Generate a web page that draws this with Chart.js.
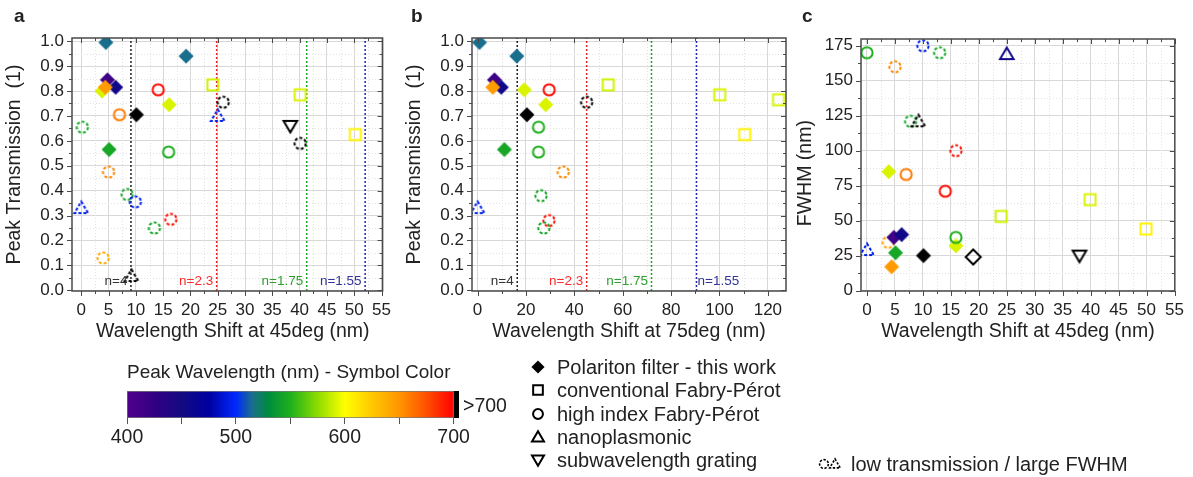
<!DOCTYPE html>
<html>
<head>
<meta charset="utf-8">
<script src="https://cdn.jsdelivr.net/npm/chart.js@4.4.0/dist/chart.umd.min.js"></script>
<style>
body { margin: 0; background: #fff; }
#wrap { position: relative; width: 1193px; height: 477px; overflow: hidden; font-family: 'Liberation Sans', Arial, sans-serif; color: #222; }
#wrap canvas, #wrap .t { position: absolute; }
.t { white-space: nowrap; }
.lab { font-weight: bold; font-size: 19px; line-height: 19px; }
</style>
</head>
<body>
<div id="wrap">
  <canvas id="pa" width="400" height="345" style="left:0;top:0"></canvas>
  <canvas id="pb" width="400" height="345" style="left:400px;top:0"></canvas>
  <canvas id="pc" width="403" height="345" style="left:790px;top:0"></canvas>
  <canvas id="cb" width="420" height="110" style="left:100px;top:350px"></canvas>
  <div class="t lab" style="left:14px;top:6px">a</div>
  <div class="t lab" style="left:411px;top:6px">b</div>
  <div class="t lab" style="left:802px;top:6px">c</div>
  <div class="t" style="left:127px;top:360px;font-size:19px;line-height:24px">Peak Wavelength (nm) - Symbol Color</div>
  <div class="t" style="left:463px;top:393px;font-size:19.5px;line-height:24px">&gt;700</div>
  <div id="legend"></div>
</div>
<script>
// panel a : shift at 45deg vs peak transmission
const aShift = [4.5, 19.2, 3.8, 4.8, 6.3, 4.4, 10.1, 16.1, 5.1, 14.1, 7.0, 16.0, 24.1, 40.1, 50.2, 26.0, 25.0, 38.3, 40.1, 0.2, 5.0, 8.4, 9.9, 0.0, 16.4, 13.4, 4.0, 9.2];
const aTrans = [0.995, 0.94, 0.80, 0.845, 0.815, 0.815, 0.705, 0.745, 0.565, 0.805, 0.705, 0.555, 0.825, 0.785, 0.625, 0.755, 0.70, 0.66, 0.59, 0.655, 0.475, 0.385, 0.355, 0.33, 0.285, 0.25, 0.13, 0.057];
const aPeak = [515, 515, 592, 415, 455, 648, 710, 592, 545, 697, 660, 550, 590, 592, 605, 710, 495, 710, 710, 545, 655, 545, 495, 495, 695, 545, 640, 710];
const aType = ['D','D','D','D','D','D','D','D','D','O','O','O','S','S','S','O','T','V','O','O','O','O','O','T','O','O','O','T'];
const aLow = [0,0,0,0,0,0,0,0,0,0,0,0,0,0,0,1,1,0,1,1,1,1,1,1,1,1,1,1];

// panel b : shift at 75deg vs peak transmission
const bShift = [0.8, 16.2, 19.3, 7.0, 9.8, 6.3, 20.4, 28.2, 11.1, 29.6, 25.2, 25.2, 54.0, 100.1, 110.4, 124.4, 45.1, 35.4, 26.2, 29.5, 27.4, 0.0];
const bTrans = [0.995, 0.94, 0.805, 0.845, 0.815, 0.815, 0.705, 0.745, 0.565, 0.805, 0.655, 0.555, 0.825, 0.785, 0.625, 0.765, 0.755, 0.475, 0.38, 0.28, 0.25, 0.33];
const bPeak = [515, 515, 592, 415, 455, 648, 710, 592, 545, 697, 550, 550, 590, 592, 605, 592, 710, 655, 545, 695, 545, 495];
const bType = ['D','D','D','D','D','D','D','D','D','O','O','O','S','S','S','S','O','O','O','O','O','T'];
const bLow = [0,0,0,0,0,0,0,0,0,0,0,0,0,0,0,0,1,1,1,1,1,1];

// panel c : shift at 45deg vs FWHM
const cShift = [0, 5, 10, 13, 25, 7.8, 9.2, 15.9, 3.9, 7, 14, 24, 39.9, 49.9, 3.8, 4.8, 6.2, 0, 5.1, 15.9, 15.9, 10.1, 19, 4.4, 38];
const cFwhm = [170, 160, 175, 170, 169, 121, 121, 100, 85, 83, 71, 53, 65, 44, 34.5, 38, 40, 29, 27, 32, 38, 25, 24, 17, 25];
const cPeak = [550, 655, 495, 545, 455, 545, 710, 695, 592, 660, 697, 590, 592, 605, 645, 415, 455, 495, 545, 592, 550, 710, 710, 648, 710];
const cType = ['O','O','O','O','T','O','T','O','D','O','O','S','S','S','O','D','D','T','D','D','O','D','d','D','V'];
const cLow = [0,1,1,1,0,1,1,1,0,0,0,0,0,0,1,0,0,1,0,0,0,0,0,0,0];

// light-line limits for refractive index n
const nIndex = ['4', '2.3', '1.75', '1.55'];
const nShift45 = [9.1, 24.8, 41.3, 52.0];
const nShift75 = [16.4, 45.1, 71.9, 90.5];

// colour bar
const cbRange = [400, 700];
const cbOver = [700, 705];
const legendType = ['D', 'S', 'O', 'T', 'V'];
const legendText = ['Polariton filter - this work', 'conventional Fabry-Pérot', 'high index Fabry-Pérot', 'nanoplasmonic', 'subwavelength grating'];

const FONT = "'Liberation Sans', Arial, sans-serif";
const cmapNm = [400, 425, 450, 475, 500, 515, 530, 550, 575, 600, 625, 650, 675, 700];
const cmapRGB = [[80,0,140],[50,0,130],[20,10,130],[0,0,160],[0,40,255],[25,110,140],[0,140,60],[30,175,30],[140,220,0],[255,255,0],[255,200,0],[255,150,0],[255,80,0],[255,0,0]];
const nLineColor = ['#222', '#e82020', '#22a022', '#2828a8'];
const nTextColor = ['#333', '#ff2a2a', '#2ea02e', '#33339a'];

function rgb(c) { return 'rgb(' + c.join(',') + ')'; }

// peak wavelength -> symbol colour (black above 700 nm)
function waveColor(nm) {
    if (nm > 700) return '#000';
    for (let i = 1; i < cmapNm.length; i++) {
        if (nm <= cmapNm[i]) {
            const f = (nm - cmapNm[i - 1]) / (cmapNm[i] - cmapNm[i - 1]);
            return rgb(cmapRGB[i].map((v, k) => Math.round(cmapRGB[i - 1][k] + f * (v - cmapRGB[i - 1][k]))));
        }
    }
    return rgb(cmapRGB[cmapRGB.length - 1]);
}

// small canvas used as point style
function marker(type, color, dashed, k = 1, lw = 2) {
    const c = document.createElement('canvas');
    c.width = c.height = 22;
    const g = c.getContext('2d');
    g.translate(11, 11);
    g.scale(k, k);
    g.strokeStyle = g.fillStyle = color;
    g.lineWidth = lw / k;
    if (dashed) g.setLineDash([3, 2]);
    g.beginPath();
    if (type === 'D' || type === 'd') {
        g.moveTo(0, -7.5); g.lineTo(7.5, 0); g.lineTo(0, 7.5); g.lineTo(-7.5, 0); g.closePath();
    } else if (type === 'S') {
        g.rect(-5.5, -5.5, 11, 11);
    } else if (type === 'O') {
        g.arc(0, 0, 5.6, 0, Math.PI * 2);
    } else if (type === 'T') {
        g.moveTo(0, -6.5); g.lineTo(6.8, 5); g.lineTo(-6.8, 5); g.closePath();
    } else if (type === 'V') {
        g.moveTo(0, 6.5); g.lineTo(6.8, -5); g.lineTo(-6.8, -5); g.closePath();
    }
    if (type === 'D') g.fill(); else g.stroke();
    return c;
}

function steps(scale, minor, major) {
    const out = [];
    for (let i = Math.ceil(scale.min / minor - 1e-9); i * minor <= scale.max + 1e-9; i++) {
        const v = i * minor, r = v / major;
        out.push([v, Math.abs(r - Math.round(r)) < 1e-6]);
    }
    return out;
}

// minor grid, frame with ticks, and n= labels
const framePlugin = {
    id: 'frame',
    beforeDatasetsDraw(chart, args, o) {
        const { ctx, chartArea: a, scales: { x, y } } = chart;
        ctx.save();
        ctx.strokeStyle = '#e2e2e2';
        ctx.lineWidth = 1;
        ctx.setLineDash([1, 2]);
        steps(x, o.xMinor, o.xStep).forEach(([v, major]) => {
            if (major) return;
            const p = Math.round(x.getPixelForValue(v)) + 0.5;
            ctx.beginPath(); ctx.moveTo(p, a.top); ctx.lineTo(p, a.bottom); ctx.stroke();
        });
        steps(y, o.yMinor, o.yStep).forEach(([v, major]) => {
            if (major) return;
            const p = Math.round(y.getPixelForValue(v)) + 0.5;
            ctx.beginPath(); ctx.moveTo(a.left, p); ctx.lineTo(a.right, p); ctx.stroke();
        });
        ctx.restore();
    },
    afterDatasetsDraw(chart, args, o) {
        if (!o.nShift) return;
        const { ctx, chartArea: a, scales: { x } } = chart;
        ctx.save();
        ctx.font = '13.5px ' + FONT;
        ctx.textBaseline = 'middle';
        o.nShift.forEach((s, i) => {
            const px = x.getPixelForValue(s);
            const right = i === o.nRight;
            ctx.fillStyle = nTextColor[i];
            ctx.textAlign = right ? 'left' : 'right';
            ctx.fillText('n=' + nIndex[i], right ? px + 1 : px - 3.5, a.bottom - 9.5);
        });
        ctx.restore();
    },
    afterDraw(chart, args, o) {
        const { ctx, chartArea: a, scales: { x, y } } = chart;
        ctx.save();
        ctx.strokeStyle = '#4a4a4a';
        ctx.lineWidth = 1;
        ctx.beginPath();
        steps(x, o.xMinor, o.xStep).forEach(([v, major]) => {
            const p = Math.round(x.getPixelForValue(v)) + 0.5, len = major ? 5 : 3;
            ctx.moveTo(p, a.bottom); ctx.lineTo(p, a.bottom + len);
            ctx.moveTo(p, a.top); ctx.lineTo(p, a.top + len);
        });
        steps(y, o.yMinor, o.yStep).forEach(([v, major]) => {
            const p = Math.round(y.getPixelForValue(v)) + 0.5, len = major ? 5 : 3;
            ctx.moveTo(a.left - len, p); ctx.lineTo(a.left, p);
            ctx.moveTo(a.right - len, p); ctx.lineTo(a.right, p);
        });
        ctx.stroke();
        ctx.lineWidth = 1.5;
        ctx.strokeRect(a.left, a.top, a.right - a.left, a.bottom - a.top);
        ctx.restore();
    }
};

function scatterPanel(id, p) {
    const markers = p.xs.map((v, i) => marker(p.types[i], waveColor(p.peaks[i]), p.low[i] === 1));
    const lineSets = (p.nShift || []).map((s, i) => ({
        data: [{ x: s, y: p.yMin }, { x: s, y: p.yMax }],
        showLine: true,
        borderColor: nLineColor[i],
        borderWidth: 1.5,
        borderDash: [2, 2],
        pointRadius: 0
    }));
    const tickFont = { family: FONT, size: 17 };
    const titleFont = { family: FONT, size: 19.5 };
    return new Chart(id, {
        type: 'scatter',
        data: {
            datasets: [{
                data: p.xs.map((v, i) => ({ x: v, y: p.ys[i] })),
                pointStyle: ctx => markers[ctx.dataIndex],
                pointRadius: 6
            }, ...lineSets]
        },
        options: {
            responsive: false,
            animation: false,
            events: [],
            layout: { padding: { top: p.padTop, right: p.padRight, left: 0, bottom: 0 } },
            plugins: {
                legend: { display: false },
                tooltip: { enabled: false },
                frame: { xMinor: p.xMinor, xStep: p.xStep, yMinor: p.yMinor, yStep: p.yStep, nShift: p.nShift, nRight: p.nRight }
            },
            scales: {
                x: {
                    type: 'linear', min: p.xMin, max: p.xMax,
                    afterFit: s => { s.height = 54; },
                    border: { display: false },
                    grid: { color: '#d8d8d8', drawTicks: false },
                    ticks: { stepSize: p.xStep, includeBounds: false, autoSkip: false, maxRotation: 0, padding: 9, color: '#222', font: tickFont },
                    title: { display: true, text: p.xTitle, color: '#222', font: titleFont, padding: { top: 0, bottom: 2 } }
                },
                y: {
                    min: p.yMin, max: p.yMax,
                    afterFit: s => { s.width = p.yWidth; },
                    border: { display: false },
                    grid: { color: '#d8d8d8', drawTicks: false },
                    ticks: { stepSize: p.yStep, includeBounds: false, autoSkip: false, padding: 8, color: '#222', font: tickFont, callback: p.yFmt },
                    title: { display: true, text: p.yTitle, color: '#222', font: titleFont, padding: { top: p.yTitlePad, bottom: 0 } }
                }
            }
        },
        plugins: [framePlugin]
    });
}

scatterPanel('pa', {
    xs: aShift, ys: aTrans, peaks: aPeak, types: aType, low: aLow,
    xMin: -1.7, xMax: 55.2, xStep: 5, xMinor: 2.5,
    yMin: -0.003, yMax: 1.013, yStep: 0.1, yMinor: 0.05, yFmt: v => v.toFixed(1),
    xTitle: '  Wavelength Shift at 45deg (nm)', yTitle: 'Peak Transmission  (1)',
    padTop: 38, padRight: 12, yWidth: 72, yTitlePad: 3.3,
    nShift: nShift45, nRight: -1
});

scatterPanel('pb', {
    xs: bShift, ys: bTrans, peaks: bPeak, types: bType, low: bLow,
    xMin: -2.3, xMax: 127.5, xStep: 20, xMinor: 10,
    yMin: -0.003, yMax: 1.013, yStep: 0.1, yMinor: 0.05, yFmt: v => v.toFixed(1),
    xTitle: 'Wavelength Shift at 75deg (nm)', yTitle: 'Peak Transmission  (1)',
    padTop: 38, padRight: 14, yWidth: 72, yTitlePad: 3.3,
    nShift: nShift75, nRight: 3
});

scatterPanel('pc', {
    xs: cShift, ys: cFwhm, peaks: cPeak, types: cType, low: cLow,
    xMin: -1.07, xMax: 55.05, xStep: 5, xMinor: 2.5,
    yMin: -0.3, yMax: 179.8, yStep: 25, yMinor: 12.5, yFmt: v => String(v),
    xTitle: 'Wavelength Shift at 45deg (nm)', yTitle: 'FWHM (nm)   ',
    padTop: 39, padRight: 18, yWidth: 71, yTitlePad: 4.3
});

// colour bar drawn as a floating horizontal bar
new Chart('cb', {
    type: 'bar',
    data: {
        labels: [''],
        datasets: [{
            data: [cbRange],
            backgroundColor: ctx => {
                const ch = ctx.chart;
                if (!ch.chartArea) return '#888';
                const xs = ch.scales.x;
                const g = ch.ctx.createLinearGradient(xs.getPixelForValue(cbRange[0]), 0, xs.getPixelForValue(cbRange[1]), 0);
                cmapNm.forEach((nm, i) => g.addColorStop((nm - cbRange[0]) / (cbRange[1] - cbRange[0]), rgb(cmapRGB[i])));
                return g;
            },
            borderColor: '#777', borderWidth: 1, borderSkipped: false,
            grouped: false, barPercentage: 1, categoryPercentage: 1
        }, {
            data: [cbOver],
            backgroundColor: '#000', borderWidth: 0,
            grouped: false, barPercentage: 1, categoryPercentage: 1
        }]
    },
    options: {
        indexAxis: 'y',
        responsive: false,
        animation: false,
        events: [],
        layout: { padding: { left: 27, top: 41, right: 61, bottom: 0 } },
        plugins: { legend: { display: false }, tooltip: { enabled: false }, frame: false },
        scales: {
            y: { display: false },
            x: {
                type: 'linear', min: 400, max: 705,
                afterFit: s => { s.height = 42; },
                border: { display: false },
                grid: { drawOnChartArea: false, drawTicks: true, tickLength: 6, tickColor: '#555' },
                ticks: {
                    stepSize: 50, includeBounds: false, autoSkip: false, maxRotation: 0, padding: 2,
                    color: '#222', font: { family: FONT, size: 19.5 },
                    callback: v => v % 100 === 0 ? String(v) : ''
                }
            }
        }
    }
});

// symbol legend
const leg = document.getElementById('legend');
legendText.forEach((txt, i) => {
    const cy = 367 + i * 23.3;
    const m = marker(legendType[i], '#000', false, 0.88, 2);
    m.style.left = (538 - 11) + 'px';
    m.style.top = (cy - 11) + 'px';
    leg.appendChild(m);
    const d = document.createElement('div');
    d.className = 't';
    d.style.cssText = 'left:557px;top:' + (cy - 12) + 'px;font-size:20px;line-height:24px';
    d.textContent = txt;
    leg.appendChild(d);
});
[['O', 824], ['T', 835]].forEach(([t, x]) => {
    const m = marker(t, '#000', true, 0.78, 1.6);
    m.style.left = (x - 11) + 'px';
    m.style.top = (464 - 11) + 'px';
    leg.appendChild(m);
});
const low = document.createElement('div');
low.className = 't';
low.style.cssText = 'left:851px;top:452px;font-size:20px;line-height:24px';
low.textContent = 'low transmission / large FWHM';
leg.appendChild(low);
</script>
</body>
</html>
